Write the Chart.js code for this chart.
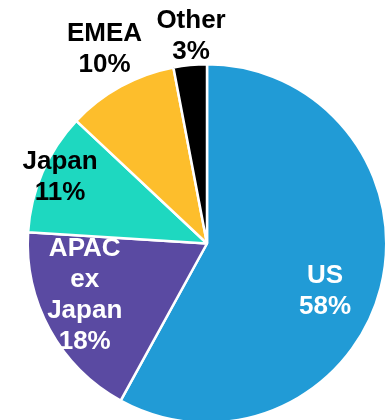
<!DOCTYPE html>
<html>
<head>
<meta charset="utf-8">
<script src="https://cdn.jsdelivr.net/npm/chart.js@4/dist/chart.umd.min.js"></script>
<style>
  html, body { margin: 0; padding: 0; background: #fff; overflow: hidden; }
  #wrap { width: 388px; height: 430px; }
</style>
</head>
<body>
<div id="wrap"><canvas id="regionPie"></canvas></div>
<script>
// revenue split by region
const regions = ['US', 'APAC\nex\nJapan', 'Japan', 'EMEA', 'Other'];
const shares = [58, 18, 11, 10, 3];
const sliceColors = ['#219bd6', '#5a4aa2', '#1ed8c0', '#fdbe2c', '#000000'];
const labelColors = ['#ffffff', '#ffffff', '#000000', '#000000', '#000000'];
// where each label sits: fraction of the radius, plus a small angle nudge (deg)
const labelRadius = [0.71, 0.74, 0.90, 1.225, 1.16];
const labelNudge = [7.5, 6, 1, 1, 1];

const sliceLabels = {
  id: 'sliceLabels',
  afterDatasetsDraw(chart) {
    const ctx = chart.ctx;
    const arcs = chart.getDatasetMeta(0).data;
    ctx.save();
    ctx.font = 'bold 26px "Liberation Sans", Arial, sans-serif';
    ctx.textAlign = 'center';
    ctx.textBaseline = 'middle';
    arcs.forEach((arc, i) => {
      const p = arc.getProps(['x', 'y', 'startAngle', 'endAngle', 'outerRadius'], true);
      const a = (p.startAngle + p.endAngle) / 2 + labelNudge[i] * Math.PI / 180;
      const r = p.outerRadius * labelRadius[i];
      const cx = p.x + Math.cos(a) * r;
      const cy = p.y + Math.sin(a) * r;
      const lines = regions[i].split('\n').concat(shares[i] + '%');
      const lh = 31;
      ctx.fillStyle = labelColors[i];
      lines.forEach((t, k) => {
        ctx.fillText(t, cx, cy + (k - (lines.length - 1) / 2) * lh);
      });
    });
    ctx.restore();
  }
};

new Chart(document.getElementById('regionPie').getContext('2d'), {
  type: 'pie',
  data: {
    labels: regions,
    datasets: [{
      data: shares,
      backgroundColor: sliceColors,
      borderColor: '#ffffff',
      borderWidth: 2.5
    }]
  },
  options: {
    responsive: true,
    maintainAspectRatio: false,
    animation: false,
    layout: { padding: { top: 63, bottom: 6, left: 26, right: 0 } },
    plugins: {
      legend: { display: false },
      tooltip: { enabled: false }
    }
  },
  plugins: [sliceLabels]
});
</script>
</body>
</html>
